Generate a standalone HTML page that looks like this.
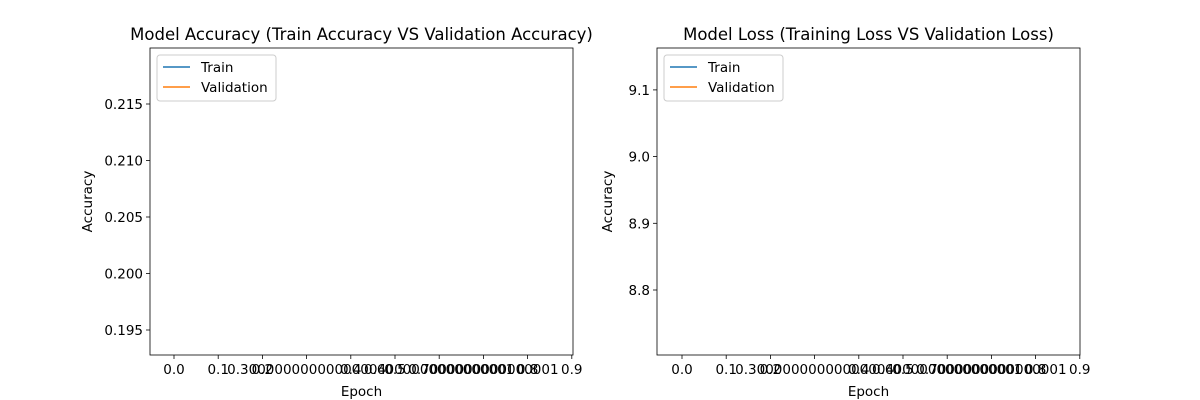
<!DOCTYPE html>
<html><head><meta charset="utf-8"><style>
html,body{margin:0;padding:0;background:#fff;}
svg{display:block;font-family:"DejaVu Sans","Liberation Sans",sans-serif;}
</style></head><body>
<svg id="fig" width="1200" height="400" viewBox="0 0 1200 400"></svg>
<script>
const epochs = [0];
const trainAcc = [0.2062];
const valAcc = [0.2062];
const trainLoss = [8.93];
const valLoss = [8.93];
const xTickLabels = ["0.0","0.1","0.2","0.30000000000000004","0.4","0.5","0.6000000000000001","0.7000000000000001","0.8","0.9"];
const accTicks = [0.195,0.200,0.205,0.210,0.215];
const lossTicks = [8.8,8.9,9.0,9.1];

const NS="http://www.w3.org/2000/svg";
const svg=document.getElementById('fig');
function mk(tag,attrs,parent,text){const e=document.createElementNS(NS,tag);for(const k in attrs)e.setAttribute(k,attrs[k]);if(text!==undefined)e.textContent=text;(parent||svg).appendChild(e);return e;}

function panel(cfg){
  const g=mk('g',{});
  
  
  const L=cfg.left,R=cfg.right,T=48,B=355;
  const xs=v=>cfg.x0+v*44.2;
  const ys=v=>cfg.yRef+(v-cfg.vRef)*cfg.yScale;
  xTickLabels.forEach((lab,i)=>{
    const x=xs(i);
    const t=mk('line',{x1:x,x2:x,y1:B,y2:B+4,stroke:'#000','stroke-width':0.8},g);
    
    
    const tx=mk('text',{x:x,y:B+19,'text-anchor':'middle','font-size':13.5,fill:'#000'},g,lab);
    
    
  });
  cfg.yTicks.forEach(v=>{
    const y=ys(v);
    const t=mk('line',{x1:L-4,x2:L,y1:y,y2:y,stroke:'#000','stroke-width':0.8},g);
    
    
    const tx=mk('text',{x:L-7,y:y+5,'text-anchor':'end','font-size':13.5,fill:'#000'},g,cfg.fmt(v));
    
    
  });
  [[cfg.s1,'#1f77b4','train-line'],[cfg.s2,'#ff7f0e','validation-line']].forEach(([s,c,n])=>{
    const pts=epochs.map((e,i)=>xs(e)+','+ys(s[i])).join(' ');
    const p=mk('polyline',{points:pts,fill:'none',stroke:c,'stroke-width':1.5},g);
    
    
  });
  const fr=mk('rect',{x:L,y:T,width:R-L,height:B-T,fill:'none',stroke:'#000','stroke-width':0.8},g);
  
  
  const ti=mk('text',{x:(L+R)/2,y:40,'text-anchor':'middle','font-size':16.5,fill:'#000'},g,cfg.title);
  
  
  const xl=mk('text',{x:(L+R)/2,y:396,'text-anchor':'middle','font-size':13.5,fill:'#000'},g,'Epoch');
  
  
  const yl=mk('text',{x:0,y:0,'text-anchor':'middle','font-size':13.5,fill:'#000',transform:`translate(${L-cfg.yLabOff},${(T+B)/2}) rotate(-90)`},g,'Accuracy');
  
  
  const lg=mk('g',{},g);
  
  
  mk('rect',{x:L+7,y:55,width:119,height:46,rx:3,fill:'#fff',stroke:'#ccc','stroke-width':1},lg);
  [['Train','#1f77b4',67],['Validation','#ff7f0e',87]].forEach(([n,c,y])=>{
    const e=mk('g',{},lg);
    
    
    mk('line',{x1:L+13,x2:L+40,y1:y,y2:y,stroke:c,'stroke-width':1.5},e);
    mk('text',{x:L+51,y:y+5,'font-size':13.5,fill:'#000'},e,n);
  });
}
panel({name:'accuracy-chart',left:150,right:573,x0:174,title:'Model Accuracy (Train Accuracy VS Validation Accuracy)',yLabOff:58,
  yTicks:accTicks,yRef:330,vRef:0.195,yScale:-56.5/0.005,fmt:v=>v.toFixed(3),s1:trainAcc,s2:valAcc});
panel({name:'loss-chart',left:657,right:1080,x0:682,title:'Model Loss (Training Loss VS Validation Loss)',yLabOff:45,
  yTicks:lossTicks,yRef:290,vRef:8.8,yScale:-66.7/0.1,fmt:v=>v.toFixed(1),s1:trainLoss,s2:valLoss});
</script>
</body></html>
